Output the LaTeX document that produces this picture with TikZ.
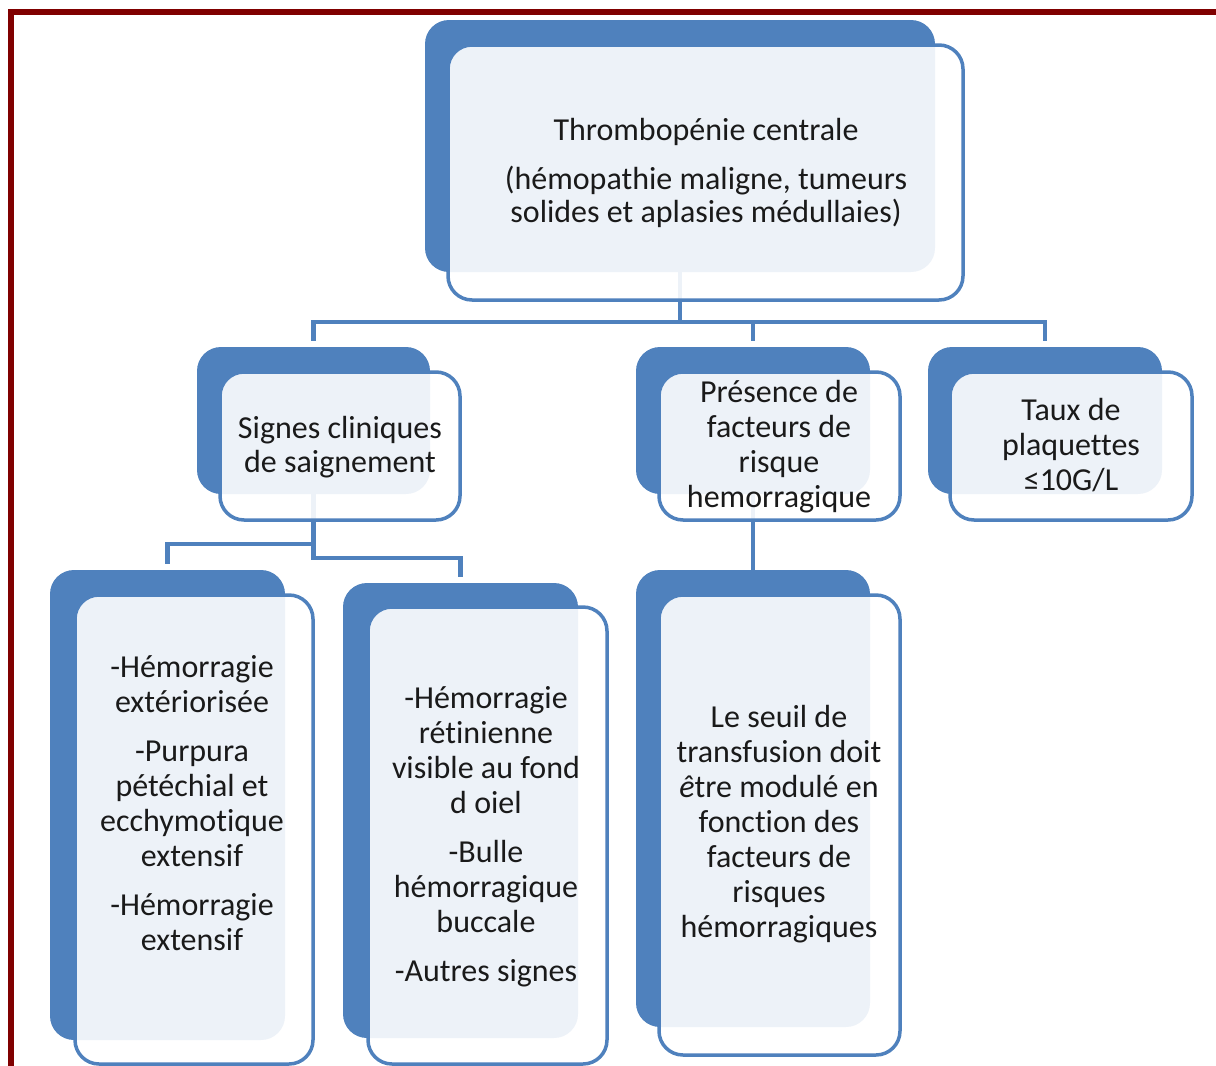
\documentclass[tikz,border=0pt]{standalone}
\usepackage{fontspec}
\setmainfont[Ligatures=NoCommon]{Carlito}
\definecolor{cblue}{HTML}{4F81BD}
\definecolor{framered}{HTML}{800000}
\definecolor{txt}{HTML}{1A1A1A}
\tikzset{
  backbox/.style={rectangle, fill=cblue, draw=none, rounded corners=24pt, inner sep=0pt, outer sep=0pt},
  frontbox/.style={rectangle, fill=white, fill opacity=0.9, draw=cblue, draw opacity=1, line width=3.5pt, rounded corners=24pt, inner sep=0pt, outer sep=0pt},
  lbl/.style={font=\fontsize{32}{35}\selectfont, align=center, anchor=base, text=txt, inner sep=0pt},
  conn/.style={draw=cblue, line width=4.5pt},
}
\begin{document}
\begin{tikzpicture}[x=1pt, y=-1pt]
\useasboundingbox (0,0) rectangle (1216,1066);
\clip (0,0) rectangle (1216,1066);
% frame
\draw[framered, line width=6pt] (1240,12) -- (11,12) -- (11,1090);

% back panels
\node[backbox, minimum width=510pt, minimum height=252pt] (topB) at (680,146) {};
\node[backbox, minimum width=233pt, minimum height=147pt] (sigB) at (313.5,420.5) {};
\node[backbox, minimum width=234pt, minimum height=147pt] (preB) at (753,420.5) {};
\node[backbox, minimum width=234pt, minimum height=147pt] (tauB) at (1045,420.5) {};
\node[backbox, minimum width=235pt, minimum height=470pt] (aB) at (167.5,805) {};
\node[backbox, minimum width=235pt, minimum height=455pt] (bB) at (460.5,810.5) {};
\node[backbox, minimum width=234pt, minimum height=457pt] (cB) at (753,798.5) {};

% connectors
\draw[conn, shorten >=6pt] (topB.south) -- ++(0,50) -| (sigB.north);
\draw[conn, shorten >=6pt] (topB.south) -- ++(0,50) -| (preB.north);
\draw[conn, shorten >=6pt] (topB.south) -- ++(0,50) -| (tauB.north);
\draw[conn, shorten >=6pt] (sigB.south) -- ++(0,50) -| (aB.north);
\draw[conn, shorten >=6pt] (sigB.south) -- ++(0,64) -| (bB.north);
\draw[conn] (preB.south) -- (cB.north);

% front panels
\node[frontbox, minimum width=515pt, minimum height=255pt] (topF) at (705.5,172.5) {};
\node[frontbox, minimum width=240pt, minimum height=148pt] (sigF) at (340,446) {};
\node[frontbox, minimum width=241pt, minimum height=148pt] (preF) at (779.5,446) {};
\node[frontbox, minimum width=242pt, minimum height=148pt] (tauF) at (1071,446) {};
\node[frontbox, minimum width=238pt, minimum height=469pt] (aF) at (194,829.5) {};
\node[frontbox, minimum width=239pt, minimum height=457pt] (bF) at (487.5,835.5) {};
\node[frontbox, minimum width=241pt, minimum height=460pt] (cF) at (779.5,825) {};

% labels (anchored on the baseline of their last line)
\node[lbl, font=\fontsize{32}{33}\selectfont] (topT) at (706,222)
  {Thrombopénie centrale\\[16pt](hémopathie maligne, tumeurs\\solides et aplasies médullaies)};
\node[lbl, font=\fontsize{32}{34}\selectfont] (sigT) at (340,472) {Signes cliniques\\de saignement};
\node[lbl] (preT) at (779,507) {Présence de\\facteurs de\\risque\\hemorragique};
\node[lbl] (tauT) at (1071,490) {Taux de\\plaquettes\\≤10G/L};
\node[lbl] (aT) at (192,950)
  {-Hémorragie\\extériorisée\\[14pt]-Purpura\\pétéchial et\\ecchymotique\\extensif\\[14pt]-Hémorragie\\extensif};
\node[lbl] (bT) at (486,981)
  {-Hémorragie\\rétinienne\\visible au fond\\d oiel\\[14pt]-Bulle\\hémorragique\\buccale\\[14pt]-Autres signes};
\node[lbl] (cT) at (779,937)
  {Le seuil de\\transfusion doit\\\textit{ê}tre modulé en\\fonction des\\facteurs de\\risques\\hémorragiques};
\end{tikzpicture}
\end{document}
